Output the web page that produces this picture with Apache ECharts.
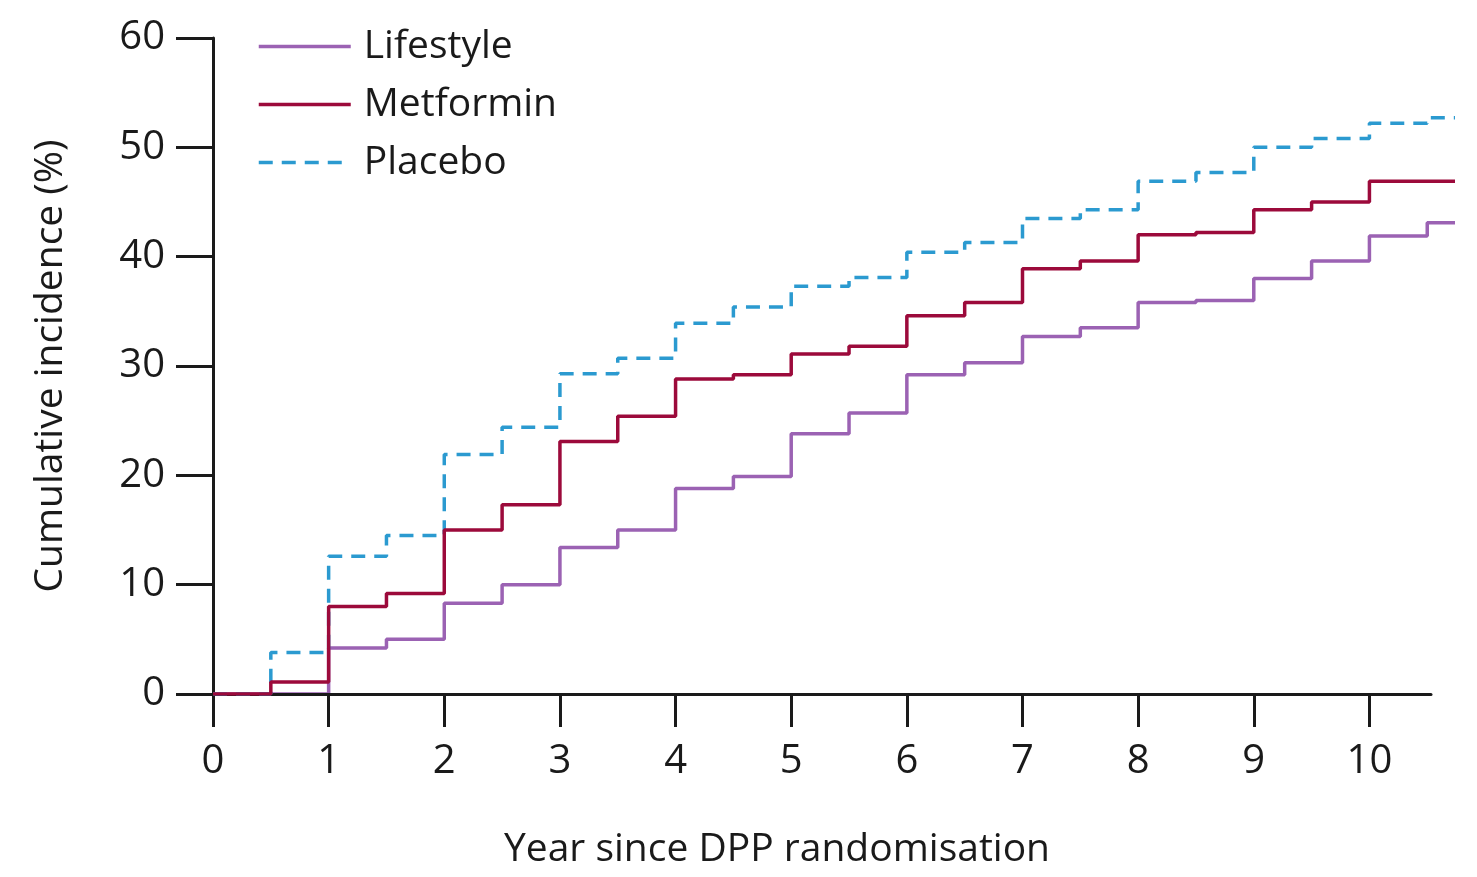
<!DOCTYPE html>
<html>
<head>
<meta charset="utf-8">
<script src="https://cdn.jsdelivr.net/npm/echarts@6/dist/echarts.min.js"></script>
<style>
  html, body { margin: 0; padding: 0; background: #fff; }
  #chart { width: 1477px; height: 877px; }
</style>
</head>
<body>
<div id="chart"></div>
<script>
// step times (years since randomisation), last one is the end of follow-up
const years = [0, 0.5, 1, 1.5, 2, 2.5, 3, 3.5, 4, 4.5, 5, 5.5, 6, 6.5, 7, 7.5, 8, 8.5, 9, 9.5, 10, 10.5, 10.74]

// cumulative incidence (%) from each step onward
const lifestyle = [0, 0, 4.2, 5.0, 8.3, 10.0, 13.4, 15.0, 18.8, 19.9, 23.8, 25.7, 29.2, 30.3, 32.7, 33.5, 35.8, 36.0, 38.0, 39.6, 41.9, 43.1, 43.1]
const metformin = [0, 1.1, 8.0, 9.2, 15.0, 17.3, 23.1, 25.4, 28.8, 29.2, 31.1, 31.8, 34.6, 35.8, 38.9, 39.6, 42.0, 42.2, 44.3, 45.0, 46.9, 46.9, 46.9]
const placebo = [0, 3.8, 12.6, 14.5, 21.9, 24.4, 29.3, 30.7, 33.9, 35.4, 37.3, 38.1, 40.4, 41.3, 43.5, 44.3, 46.9, 47.7, 50.0, 50.8, 52.2, 52.7, 52.7]

const xTicks = [0, 1, 2, 3, 4, 5, 6, 7, 8, 9, 10]
const yTicks = [0, 10, 20, 30, 40, 50, 60]

const font = '"Open Sans", "DejaVu Sans", sans-serif'
const ink = '#1a1a1a'

const pairs = vals => years.map((x, i) => [x, vals[i]])

const chart = echarts.init(document.getElementById('chart'))

const makeSeries = (name, vals, color, type, z) => ({
  name,
  type: 'line',
  step: 'end',
  symbol: 'none',
  z,
  data: pairs(vals),
  lineStyle: { color, width: 3.5, type },
  itemStyle: { color }
})

chart.setOption({
  animation: false,
  textStyle: { fontFamily: font, color: ink },
  grid: [
    { left: 213, top: 38, right: 22, bottom: 183 },
    // the drawn x axis line stops a little before the end of the curves
    { left: 213, top: 38, right: 46, bottom: 183 }
  ],
  legend: {
    orient: 'vertical',
    left: 252,
    top: 20,
    itemWidth: 92,
    itemHeight: 14,
    itemGap: 15,
    itemStyle: { opacity: 0 },
    lineStyle: { width: 3.5 },
    textStyle: { fontFamily: font, fontSize: 39, color: ink, lineHeight: 43, padding: [0, 0, 0, 8] },
    data: ['Lifestyle', 'Metformin', 'Placebo']
  },
  xAxis: [
    {
      type: 'value',
      gridIndex: 0,
      min: 0,
      max: 10.74,
      interval: 1,
      name: 'Year since DPP randomisation',
      nameLocation: 'middle',
      nameGap: 136,
      nameTextStyle: { fontFamily: font, fontSize: 39, color: ink, padding: [0, 114, 0, 0] },
      axisLine: { show: false },
      axisTick: { show: true, inside: false, length: 33, customValues: xTicks, lineStyle: { color: ink, width: 3 } },
      axisLabel: { fontFamily: font, fontSize: 40, color: ink, margin: 48, customValues: xTicks },
      splitLine: { show: false }
    },
    {
      type: 'value',
      gridIndex: 1,
      min: 0,
      max: 10.54,
      z: 2.5,
      axisLine: { show: true, onZero: false, lineStyle: { color: ink, width: 3 } },
      axisTick: { show: false },
      axisLabel: { show: false },
      splitLine: { show: false }
    }
  ],
  yAxis: [
    {
      type: 'value',
      gridIndex: 0,
      min: 0,
      max: 60,
      interval: 10,
      name: 'Cumulative incidence (%)',
      nameLocation: 'middle',
      nameGap: 143,
      nameTextStyle: { fontFamily: font, fontSize: 39, color: ink },
      axisLine: { show: true, lineStyle: { color: ink, width: 3 } },
      axisTick: { show: true, inside: false, length: 37, lineStyle: { color: ink, width: 3 } },
      axisLabel: { fontFamily: font, fontSize: 40, color: ink, margin: 48, customValues: yTicks },
      splitLine: { show: false }
    },
    {
      type: 'value',
      gridIndex: 1,
      min: 0,
      max: 60,
      show: false
    }
  ],
  series: [
    makeSeries('Lifestyle', lifestyle, '#9b62b3', 'solid', 2),
    makeSeries('Metformin', metformin, '#9c0a3b', 'solid', 4),
    makeSeries('Placebo', placebo, '#2b9ad0', [14, 9], 3)
  ]
})

window.addEventListener('resize', () => chart.resize())
</script>
</body>
</html>
